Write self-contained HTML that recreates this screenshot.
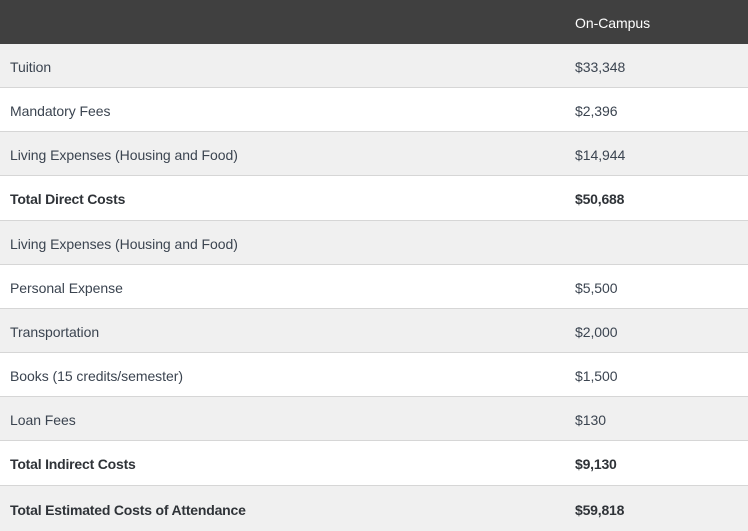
<!DOCTYPE html>
<html><head><style>
body{margin:0;width:748px;height:531px;overflow:hidden;background:#fff;font-family:"Liberation Sans",sans-serif;font-size:14px;color:#3b4450;}
.r{position:absolute;left:0;width:748px;box-sizing:border-box;border-bottom:1px solid #d6d6d6;}
.r span{position:absolute;top:50%;transform:translateY(-45%);white-space:nowrap;letter-spacing:-0.05px;}
.a{left:10px}.b{left:575px}
.g{background:#f0f0f0}.w{background:#fff}
.t{font-weight:bold;color:#2f3338}
.t span{letter-spacing:-0.2px}
.h{background:#404040;color:#fff;border-bottom:none;}
</style></head><body>
<div class="r h" style="top:0;height:44px"><span class="b">On-Campus</span></div>
<div class="r g" style="top:44px;height:44px"><span class="a">Tuition</span><span class="b">$33,348</span></div>
<div class="r w" style="top:88px;height:44px"><span class="a">Mandatory Fees</span><span class="b">$2,396</span></div>
<div class="r g" style="top:132px;height:44px"><span class="a">Living Expenses (Housing and Food)</span><span class="b">$14,944</span></div>
<div class="r w t" style="top:176px;height:45px"><span class="a">Total Direct Costs</span><span class="b">$50,688</span></div>
<div class="r g" style="top:221px;height:44px"><span class="a">Living Expenses (Housing and Food)</span></div>
<div class="r w" style="top:265px;height:44px"><span class="a">Personal Expense</span><span class="b">$5,500</span></div>
<div class="r g" style="top:309px;height:44px"><span class="a">Transportation</span><span class="b">$2,000</span></div>
<div class="r w" style="top:353px;height:44px"><span class="a">Books (15 credits/semester)</span><span class="b">$1,500</span></div>
<div class="r g" style="top:397px;height:44px"><span class="a">Loan Fees</span><span class="b">$130</span></div>
<div class="r w t" style="top:441px;height:45px"><span class="a">Total Indirect Costs</span><span class="b">$9,130</span></div>
<div class="r g t" style="top:486px;height:45px;border-bottom:none"><span class="a">Total Estimated Costs of Attendance</span><span class="b">$59,818</span></div>
</body></html>
